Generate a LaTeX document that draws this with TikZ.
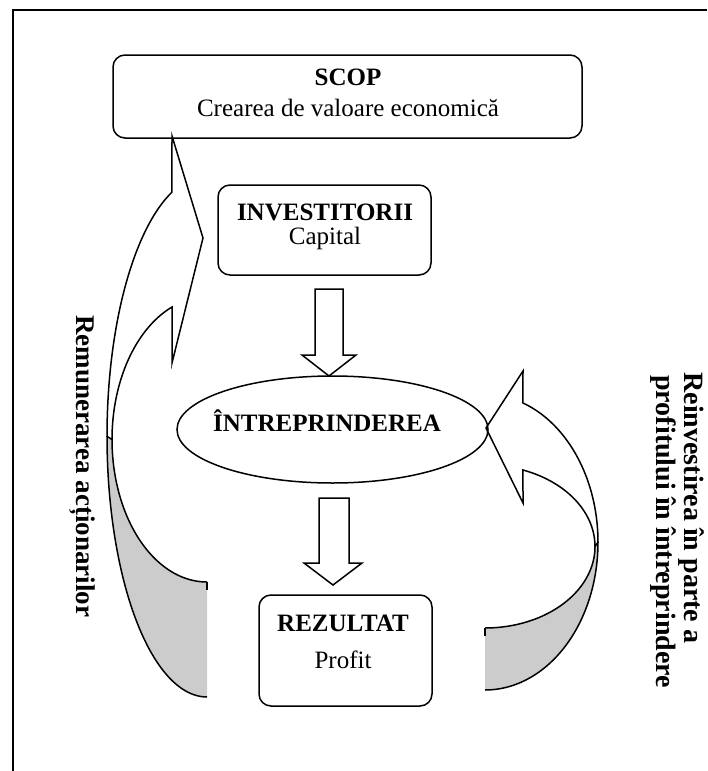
\documentclass[tikz,border=0pt]{standalone}
\usepackage{fontspec}
\setmainfont{Liberation Serif}
\usetikzlibrary{shapes.geometric}
\begin{document}
\begin{tikzpicture}[x=0.5pt,y=-0.5pt,line join=miter,
  box/.style={draw,line width=0.75pt,rounded corners=6pt,inner sep=0pt},
  outline/.style={draw,line width=0.75pt},
  backface/.style={fill=black!20},
  lbl/.style={font=\fontsize{12.5}{15}\selectfont,inner sep=0pt},
  blbl/.style={font=\fontsize{12.5}{15}\selectfont\bfseries,inner sep=0pt},
  side/.style={font=\fontsize{14}{17}\selectfont\bfseries,rotate=-90,anchor=west,inner sep=0pt}]

\useasboundingbox (0,0) rectangle (707,771);

% frame
\draw[line width=1pt] (13,771) -- (13,10) -- (707,10);

% boxes
\node[box,minimum width=234.5pt,minimum height=41.5pt] (scop) at (347.5,96.5) {};
\node[blbl] (scopT) at (348,77) {SCOP};
\node[lbl] (scopS) at (348,108) {Crearea de valoare economică};

\node[box,minimum width=106.5pt,minimum height=45pt] (inv) at (324.5,230) {};
\node[blbl] (invT) at (325,212) {INVESTITORII};
\node[lbl] (invS) at (325,238) {Capital};

\node[box,minimum width=86.5pt,minimum height=55.5pt] (rez) at (345.5,650.5) {};
\node[blbl] (rezT) at (343,623) {REZULTAT};
\node[lbl] (rezS) at (343,660) {Profit};

% left curved arrow: back face, then front band with head
\fill[backface] plot[domain=180:90,samples=50] ({207+100*cos(\x)},{436.3+260.7*sin(\x)})
  -- plot[domain=90:180,samples=50] ({207+95*cos(\x)},{439.5+142.5*sin(\x)}) -- cycle;
\draw[outline] plot[domain=180:90,samples=50] ({207+100*cos(\x)},{436.3+260.7*sin(\x)});
\draw[outline] plot[domain=90:180,samples=50] ({207+95*cos(\x)},{439.5+142.5*sin(\x)});
\draw[outline] (207,582) -- (207,590);
\path[outline,fill=white] plot[domain=180:249.5,samples=50] ({207+100*cos(\x)},{436.3+260.7*sin(\x)})
  -- (172,136) -- (203,238) -- (172,363)
  -- plot[domain=248.4:180,samples=50] ({207+95*cos(\x)},{439.5+142.5*sin(\x)}) -- cycle;

% right curved arrow: back face, then front band with head
\fill[backface] plot[domain=0:90,samples=50] ({485+113*cos(\x)},{542.2+147.8*sin(\x)})
  -- plot[domain=90:0,samples=50] ({485+110*cos(\x)},{546.5+81.5*sin(\x)}) -- cycle;
\draw[outline] plot[domain=0:90,samples=50] ({485+113*cos(\x)},{542.2+147.8*sin(\x)});
\draw[outline] plot[domain=90:0,samples=50] ({485+110*cos(\x)},{546.5+81.5*sin(\x)});
\draw[outline] (485,628) -- (485,636);
\path[outline,fill=white] plot[domain=0:-70.4,samples=50] ({485+113*cos(\x)},{542.2+147.8*sin(\x)})
  -- (523,371) -- (486,428) -- (523,503)
  -- plot[domain=-69.8:0,samples=50] ({485+110*cos(\x)},{546.5+81.5*sin(\x)}) -- cycle;

% enterprise
\node[draw,ellipse,line width=0.75pt,minimum width=155.5pt,minimum height=53.5pt,inner sep=0pt] (ent) at (332.5,429.5) {};
\node[blbl] (entT) at (327,421) {ÎNTREPRINDEREA};

% block arrows down
\path[outline,fill=white] (315,289) -- (343,289) -- (343,355) -- (356,355) -- (329,376)
  -- (302,355) -- (315,355) -- cycle;
\path[outline,fill=white] (319,498) -- (349,498) -- (349,563) -- (362,563) -- (333,585)
  -- (304,563) -- (319,563) -- cycle;

% side captions
\node[side,font=\fontsize{13.5}{16}\selectfont\bfseries] (remT) at (82,315) {Remunerarea acționarilor};
\node[side] (reinv1) at (691,372) {Reinvestirea în parte a};
\node[side] (reinv2) at (663,375) {profitului în întreprindere};
\end{tikzpicture}
\end{document}
